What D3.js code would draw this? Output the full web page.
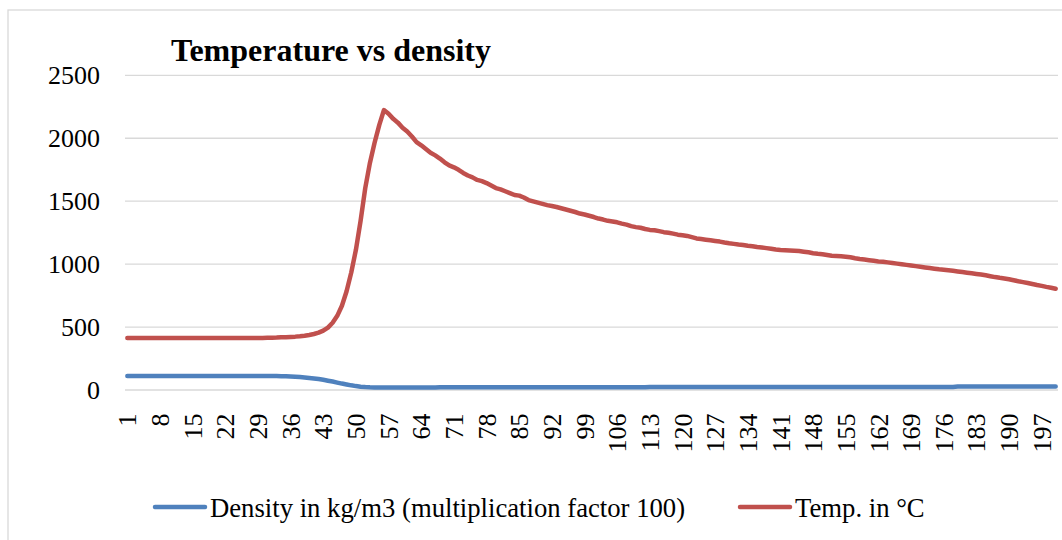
<!DOCTYPE html>
<html>
<head>
<meta charset="utf-8">
<script src="https://cdn.jsdelivr.net/npm/d3@7"></script>
<style>
  html, body { margin: 0; padding: 0; background: #fff; }
  svg { display: block; font-family: "Liberation Serif", "Times New Roman", serif; }
  .grid line { stroke: #d9d9d9; stroke-width: 1.3px; }
  .axis text { fill: #000; }
</style>
</head>
<body>
<div id="app"></div>
<script>
// Temperature in °C, one value per step (1..200)
const TEMP = [
  410, 410, 410, 410, 410, 410, 410, 410, 410, 410,
  410, 410, 410, 410, 410, 410, 410, 410, 410, 410,
  410, 410, 410, 410, 410, 410, 410, 410, 410, 410,
  411, 412, 413, 415, 416, 418, 420, 423, 427, 433,
  441, 452, 468, 492, 530, 585, 665, 780, 930, 1110,
  1340, 1600, 1800, 1960, 2100, 2220, 2190, 2150, 2120, 2080,
  2050, 2010, 1965, 1940, 1910, 1880, 1860, 1835, 1805, 1780,
  1765, 1745, 1720, 1700, 1685, 1665, 1655, 1640, 1620, 1600,
  1590, 1575, 1560, 1545, 1540, 1525, 1505, 1495, 1485, 1475,
  1465, 1458, 1450, 1440, 1430, 1420, 1410, 1398, 1390, 1380,
  1370, 1358, 1350, 1340, 1335, 1328, 1318, 1310, 1298, 1290,
  1285, 1275, 1268, 1265, 1258, 1250, 1245, 1238, 1230, 1225,
  1220, 1210, 1200, 1195, 1190, 1185, 1180, 1175, 1168, 1162,
  1157, 1152, 1148, 1142, 1138, 1132, 1128, 1123, 1118, 1112,
  1108, 1106, 1104, 1102, 1100, 1095, 1090, 1083, 1078, 1074,
  1068, 1062, 1060, 1058, 1055, 1050, 1043, 1037, 1032, 1027,
  1022, 1017, 1015, 1010, 1005, 1000, 995, 990, 985, 980,
  975, 970, 965, 960, 955, 951, 947, 943, 938, 933,
  928, 923, 918, 913, 907, 900, 893, 887, 882, 876,
  868, 860, 853, 846, 838, 830, 823, 815, 808, 800
];

// Density in kg/m3 x 100
const DENSITY = [
  107, 107, 107, 107, 107, 107, 107, 107, 107, 107,
  107, 107, 107, 107, 107, 107, 107, 107, 107, 107,
  107, 107, 107, 107, 107, 107, 107, 107, 107, 107,
  107, 107, 107, 106, 105, 103, 101, 99, 96, 92,
  88, 83, 77, 70, 63, 55, 47, 40, 33, 27,
  22, 19, 17, 16, 15, 15, 15, 15, 15, 15,
  15, 15, 15, 15, 15, 15, 15, 17, 17, 17,
  17, 17, 17, 17, 17, 17, 17, 17, 17, 17,
  17, 17, 17, 17, 17, 17, 17, 17, 17, 17,
  17, 17, 17, 17, 17, 17, 17, 17, 17, 17,
  17, 17, 17, 17, 17, 17, 17, 17, 17, 17,
  17, 17, 20, 20, 20, 20, 20, 20, 20, 20,
  20, 20, 20, 20, 20, 20, 20, 20, 20, 20,
  20, 20, 20, 20, 20, 20, 20, 20, 20, 20,
  20, 20, 20, 20, 20, 20, 20, 20, 20, 20,
  20, 20, 20, 20, 20, 20, 20, 20, 20, 20,
  20, 20, 20, 20, 20, 20, 20, 20, 20, 20,
  20, 20, 20, 20, 20, 20, 20, 20, 23, 23,
  23, 23, 23, 23, 23, 23, 23, 23, 23, 23,
  23, 23, 23, 23, 23, 23, 23, 23, 23, 23
];

const X_TICKS = [1, 8, 15, 22, 29, 36, 43, 50, 57, 64, 71, 78, 85, 92, 99, 106, 113, 120,
  127, 134, 141, 148, 155, 162, 169, 176, 183, 190, 197];
const Y_TICKS = [0, 500, 1000, 1500, 2000, 2500];

const SERIES = [
  { name: "Density in kg/m3 (multiplication factor 100)", values: DENSITY, color: "#4f81bd" },
  { name: "Temp. in °C", values: TEMP, color: "#c0504d" }
];

const W = 1062, H = 540;
const margin = {top: 74.8, left: 125}
    , width = 933
    , height = 314.7;

const categories = TEMP.map((d, i) => i + 1);

const x = d3.scaleBand()
    .domain(categories)
    .range([0, width]);

const y = d3.scaleLinear()
    .domain([0, 2500])
    .range([height, 0]);

const svg = d3.select("#app").append("svg")
    .attr("width", W)
    .attr("height", H);

// chart frame
svg.append("rect")
    .attr("x", 8)
    .attr("y", 10)
    .attr("width", 1200)
    .attr("height", 700)
    .attr("fill", "#fff")
    .attr("stroke", "#d9d9d9")
    .attr("stroke-width", 1.3);

svg.append("text")
    .attr("x", 171)
    .attr("y", 61)
    .attr("font-size", 32)
    .attr("font-weight", "bold")
    .text("Temperature vs density");

const g = svg.append("g")
    .attr("transform", `translate(${margin.left}, ${margin.top})`);

// gridlines
g.append("g")
    .attr("class", "grid")
    .call(d3.axisLeft(y).tickValues(Y_TICKS).tickSize(-width).tickFormat(""))
    .call(s => s.select(".domain").remove());

// y axis labels
g.append("g")
    .attr("class", "axis")
    .call(d3.axisLeft(y).tickValues(Y_TICKS).tickSize(0).tickPadding(25).tickFormat(d3.format("d")))
    .attr("font-family", null)
    .attr("font-size", 26)
    .call(s => s.select(".domain").remove())
    .selectAll("text")
      .attr("dy", "0.34em");

// x axis labels
g.append("g")
    .attr("class", "axis")
    .attr("transform", `translate(0, ${height})`)
    .call(d3.axisBottom(x).tickValues(X_TICKS).tickSize(0))
    .attr("font-family", null)
    .attr("font-size", 26)
    .call(s => s.select(".domain").remove())
    .selectAll("text")
      .attr("transform", "rotate(-90)")
      .attr("x", -24)
      .attr("y", 0)
      .attr("dy", "0.35em")
      .style("text-anchor", "end");

const line = d3.line()
    .x((d, i) => x(categories[i]) + x.bandwidth() / 2)
    .y(d => y(d));

g.selectAll(".series")
    .data(SERIES)
  .enter().append("path")
    .attr("class", "series")
    .attr("fill", "none")
    .attr("stroke", d => d.color)
    .attr("stroke-width", 4.5)
    .attr("stroke-linejoin", "round")
    .attr("stroke-linecap", "round")
    .attr("d", d => line(d.values));

// legend
const legendPos = [153, 738];
const legend = svg.selectAll(".legend")
    .data(SERIES)
  .enter().append("g")
    .attr("class", "legend")
    .attr("transform", (d, i) => `translate(${legendPos[i]}, 507)`);

legend.append("line")
    .attr("x1", 2)
    .attr("x2", 52)
    .attr("stroke", d => d.color)
    .attr("stroke-width", 4.5)
    .attr("stroke-linecap", "round");

legend.append("text")
    .attr("x", 57)
    .attr("y", 10)
    .attr("font-size", 26.7)
    .text(d => d.name);
</script>
</body>
</html>
